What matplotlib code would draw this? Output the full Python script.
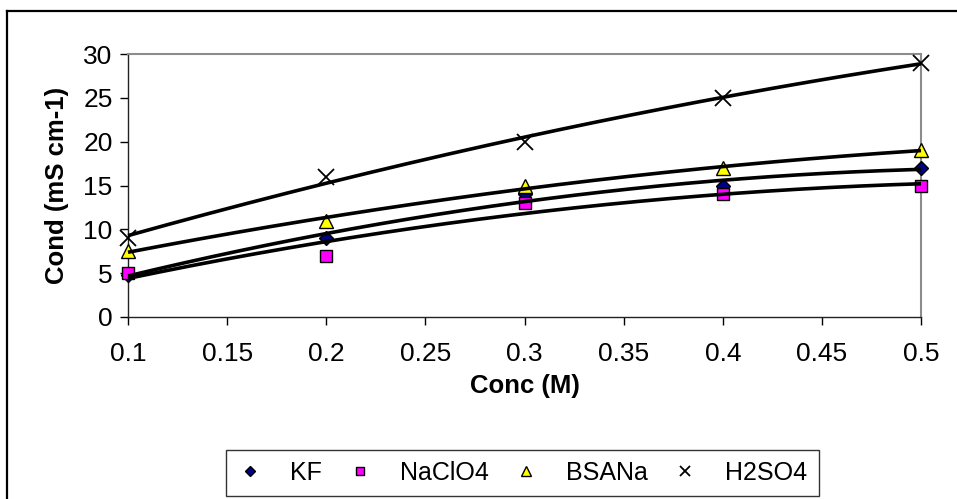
import numpy as np
import matplotlib
matplotlib.use("Agg")
import matplotlib.pyplot as plt
from matplotlib.lines import Line2D

plt.rcParams['font.family'] = ['Liberation Sans', 'DejaVu Sans']

# Conductivity vs. concentration for four electrolytes
conc = [0.1, 0.2, 0.3, 0.4, 0.5]
kf = [4.8, 9, 14, 15, 17]
naclo4 = [5, 7, 13, 14, 15]
bsana = [7.5, 11, 15, 17, 19]
h2so4 = [9, 16, 20, 25, 29]

series_names = ["KF", "NaClO4", "BSANa", "H2SO4"]
x_ticks = [0.1, 0.15, 0.2, 0.25, 0.3, 0.35, 0.4, 0.45, 0.5]
y_ticks = [0, 5, 10, 15, 20, 25, 30]

styles = [
    dict(marker="D", markerfacecolor="#000080", markeredgecolor="black", markersize=7.5),
    dict(marker="s", markerfacecolor="#FF00FF", markeredgecolor="black", markersize=8.5),
    dict(marker="^", markerfacecolor="#FFFF00", markeredgecolor="black", markersize=10),
    dict(marker="x", color="black", markersize=11, markeredgewidth=1.3),
]

fig = plt.figure(figsize=(9.57, 4.99), dpi=100)
ax = fig.add_axes([128 / 957, 1 - 317 / 499, (921 - 128) / 957, (317 - 54) / 499])

handles = []
xs = np.asarray(conc)
for name, vals, st in zip(series_names, [kf, naclo4, bsana, h2so4], styles):
    h, = ax.plot(conc, vals, linestyle="none", clip_on=False, zorder=3,
                 markeredgewidth=st.pop("markeredgewidth", 1.0), **st)
    handles.append(h)
    # second-order polynomial trendline
    coef = np.polyfit(xs, np.asarray(vals, dtype=float), 2)
    xf = np.linspace(0.1, 0.5, 200)
    ax.plot(xf, np.polyval(coef, xf), color="black", linewidth=2.6,
            zorder=4, clip_on=False, solid_capstyle="butt")

ax.set_xlim(0.1, 0.5)
ax.set_ylim(0, 30)
ax.set_xticks(x_ticks)
ax.set_xticklabels([f"{t:g}" for t in x_ticks])
ax.set_yticks(y_ticks)
ax.tick_params(axis="both", direction="out", length=6, width=1, color="black",
               labelsize=19, pad=5)
ax.tick_params(axis="x", pad=12)

for side in ["left", "bottom"]:
    ax.spines[side].set_color("#222222")
    ax.spines[side].set_linewidth(1)
for side in ["top", "right"]:
    ax.spines[side].set_color("#8c8c8c")
    ax.spines[side].set_linewidth(1.5)

ax.set_xlabel("Conc (M)", fontsize=18.5, fontweight="bold", labelpad=6)
ax.set_ylabel("Cond (mS cm-1)", fontsize=18.5, fontweight="bold", labelpad=10)

leg = fig.legend(handles, series_names, loc="center",
                 bbox_to_anchor=(522.5 / 957, 1 - 473 / 499), ncol=4,
                 fontsize=18, frameon=True, fancybox=False, handlelength=1.0,
                 handletextpad=1.1, columnspacing=1.0, borderpad=0.45,
                 markerscale=0.7)
leg.get_frame().set_edgecolor("black")
leg.get_frame().set_linewidth(1.0)

# outer chart frame
fig.add_artist(Line2D([7 / 957, 7 / 957], [0, 1 - 11 / 499], transform=fig.transFigure,
                      color="black", linewidth=1.6))
fig.add_artist(Line2D([7 / 957, 1], [1 - 11 / 499, 1 - 11 / 499], transform=fig.transFigure,
                      color="black", linewidth=1.6))

fig.savefig("out.png", dpi=100)
